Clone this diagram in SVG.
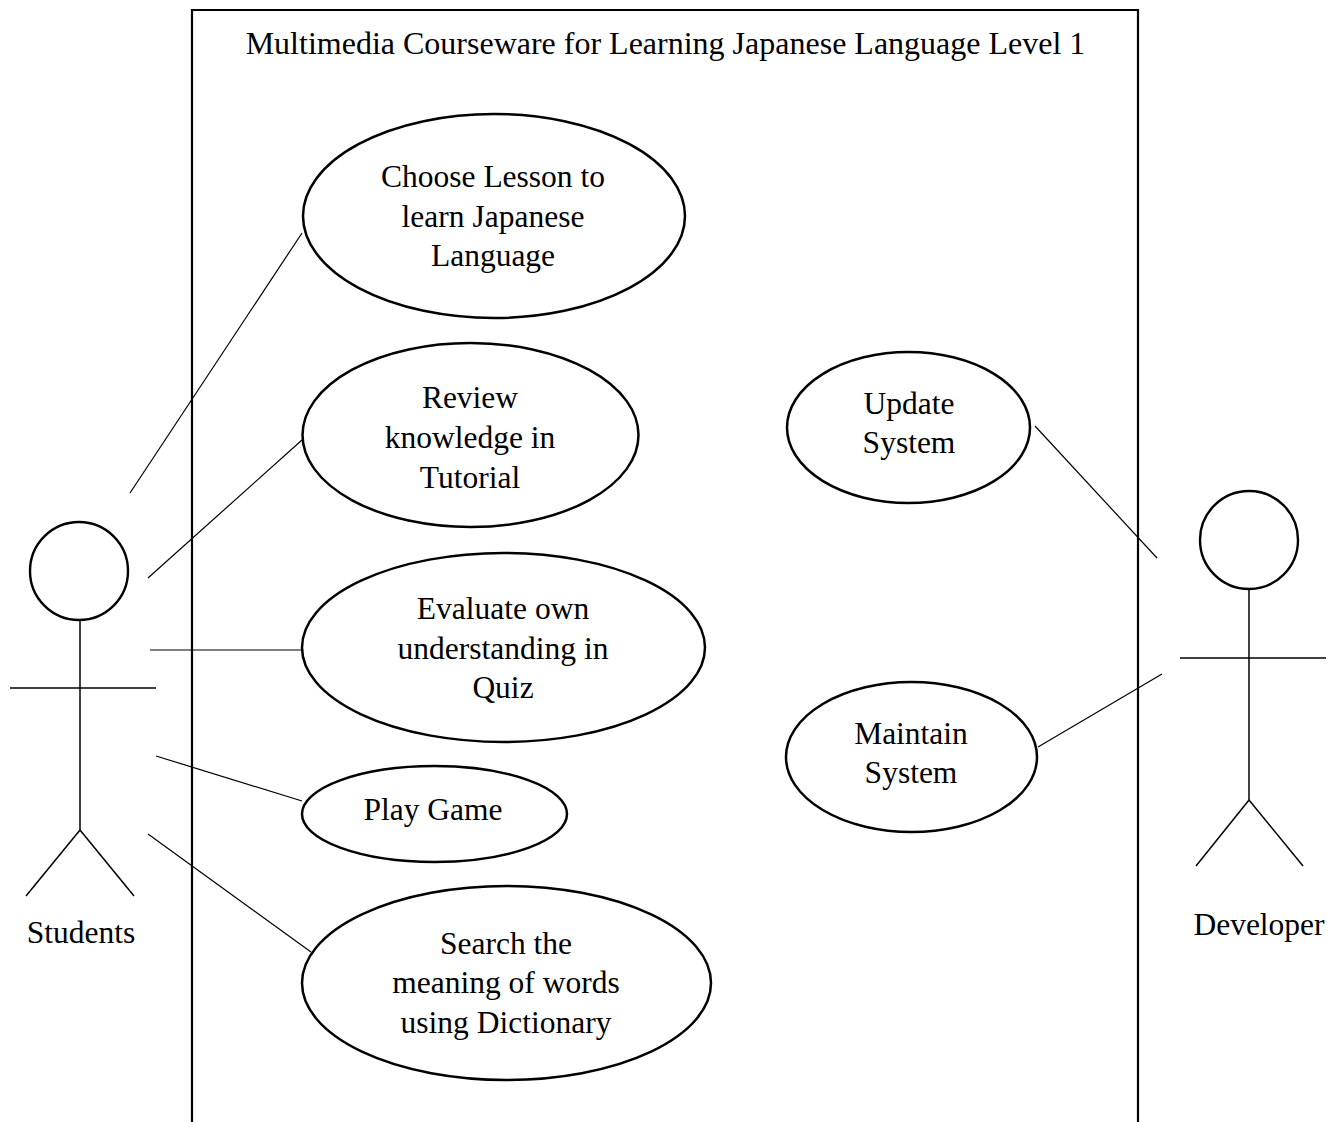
<svg xmlns="http://www.w3.org/2000/svg" width="1344" height="1122" viewBox="0 0 1344 1122">
  <style>
    text { font-family: "Liberation Serif", "Times New Roman", serif; font-size: 31.5px; fill: #000; text-anchor: middle; }
    .title { font-size: 32px; }
    .usecase { fill: #fff; stroke: #000; stroke-width: 2.5; }
    .boundary { fill: none; stroke: #000; stroke-width: 2.2; }
    .link { stroke: #000; stroke-width: 1.2; fill: none; }
    .head { fill: #fff; stroke: #000; stroke-width: 2.4; }
    .limb { stroke: #000; stroke-width: 1.5; fill: none; }
  </style>
  <rect width="1344" height="1122" fill="#fff"/>

  <!-- system boundary -->
  <g id="system">
    <path class="boundary" d="M192,1124 V10 H1138 V1124"/>
    <text class="title" x="665.5" y="54">Multimedia Courseware for Learning Japanese Language Level 1</text>
  </g>

  <!-- associations -->
  <g id="connectors">
    <line class="link" x1="130" y1="493" x2="302" y2="233"/>
    <line class="link" x1="148" y1="578" x2="302" y2="440"/>
    <line class="link" x1="150" y1="650" x2="302" y2="650"/>
    <line class="link" x1="156" y1="756" x2="302" y2="801"/>
    <line class="link" x1="148" y1="834" x2="311" y2="952"/>
    <line class="link" x1="1035" y1="426" x2="1157" y2="558"/>
    <line class="link" x1="1038" y1="747" x2="1162" y2="674"/>
  </g>

  <!-- actors -->
  <g id="actor-students">
    <circle class="head" cx="79" cy="571" r="49"/>
    <line class="limb" x1="80" y1="620" x2="80" y2="830"/>
    <line class="limb" x1="10" y1="688" x2="156" y2="688"/>
    <line class="limb" x1="80" y1="830" x2="26" y2="896"/>
    <line class="limb" x1="80" y1="830" x2="134" y2="896"/>
    <text x="81" y="943">Students</text>
  </g>

  <g id="actor-developer">
    <circle class="head" cx="1249" cy="540" r="49"/>
    <line class="limb" x1="1249" y1="589" x2="1249" y2="800"/>
    <line class="limb" x1="1180" y1="658" x2="1326" y2="658"/>
    <line class="limb" x1="1249" y1="800" x2="1196" y2="866"/>
    <line class="limb" x1="1249" y1="800" x2="1303" y2="866"/>
    <text x="1259" y="935">Developer</text>
  </g>

  <!-- use cases -->
  <g id="uc-choose-lesson">
    <ellipse class="usecase" cx="494" cy="216" rx="191" ry="102"/>
    <text x="493" y="187">Choose Lesson to</text>
    <text x="493" y="227">learn Japanese</text>
    <text x="493" y="266">Language</text>
  </g>

  <g id="uc-review">
    <ellipse class="usecase" cx="470.5" cy="435" rx="168" ry="92"/>
    <text x="470" y="408">Review</text>
    <text x="470" y="448">knowledge in</text>
    <text x="470" y="488">Tutorial</text>
  </g>

  <g id="uc-evaluate">
    <ellipse class="usecase" cx="503.5" cy="647.5" rx="201.5" ry="94.5"/>
    <text x="503" y="619">Evaluate own</text>
    <text x="503" y="659">understanding in</text>
    <text x="503" y="698">Quiz</text>
  </g>

  <g id="uc-play-game">
    <ellipse class="usecase" cx="434.5" cy="814" rx="132.5" ry="48"/>
    <text x="433" y="820">Play Game</text>
  </g>

  <g id="uc-search">
    <ellipse class="usecase" cx="506.5" cy="983" rx="204.5" ry="97"/>
    <text x="506" y="954">Search the</text>
    <text x="506" y="993">meaning of words</text>
    <text x="506" y="1033">using Dictionary</text>
  </g>

  <g id="uc-update">
    <ellipse class="usecase" cx="908.5" cy="427.5" rx="121.5" ry="75.5"/>
    <text x="909" y="414">Update</text>
    <text x="909" y="453">System</text>
  </g>

  <g id="uc-maintain">
    <ellipse class="usecase" cx="911.5" cy="757" rx="125.5" ry="75"/>
    <text x="911" y="744">Maintain</text>
    <text x="911" y="783">System</text>
  </g>
</svg>
